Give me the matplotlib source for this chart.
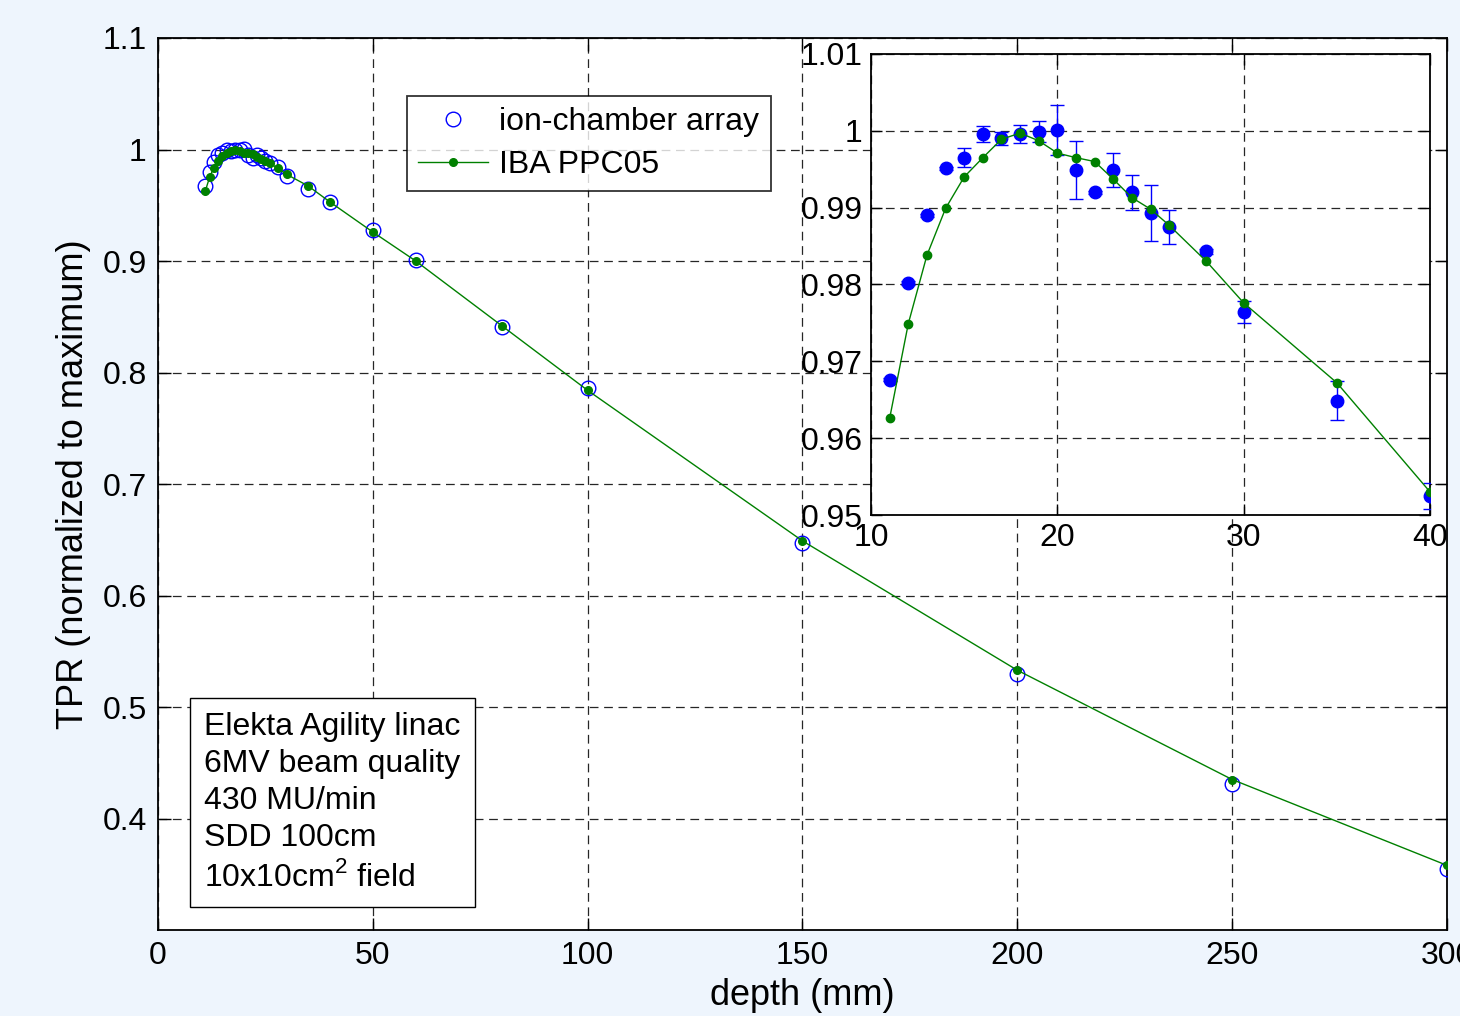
import numpy as np
import matplotlib
matplotlib.use('Agg')
import matplotlib.pyplot as plt
from matplotlib.ticker import FormatStrFormatter

# datos
depth = [11, 12, 13, 14, 15, 16, 17, 18, 19, 20, 21, 22, 23, 24, 25, 26, 28, 30, 35, 40,
         50, 60, 80, 100, 150, 200, 250, 300]
ion = [0.9676, 0.9802, 0.9890, 0.9951, 0.9965, 0.9996, 0.9990, 0.9996, 0.9999, 1.0001,
       0.9949, 0.9920, 0.9949, 0.9920, 0.9893, 0.9875, 0.9843, 0.9764, 0.9649, 0.9525,
       0.928, 0.901, 0.841, 0.7865, 0.6475, 0.530, 0.431, 0.355]
ion_err = [0.0002, 0.0003, 0.0002, 0.0002, 0.0012, 0.0010, 0.0009, 0.0012, 0.0014, 0.0033,
           0.0038, 0.0002, 0.0022, 0.0023, 0.0036, 0.0022, 0.0003, 0.0014, 0.0026, 0.0017,
           0, 0, 0, 0, 0, 0, 0, 0]
ppc = [0.9626, 0.9749, 0.9838, 0.9899, 0.9940, 0.9965, 0.9989, 0.9997, 0.9987, 0.9971,
       0.9965, 0.9960, 0.9937, 0.9913, 0.9898, 0.9877, 0.9830, 0.9776, 0.9672, 0.9530,
       0.926, 0.900, 0.842, 0.784, 0.649, 0.533, 0.435, 0.358]

xticks_main = [0, 50, 100, 150, 200, 250, 300]
yticks_main = [0.4, 0.5, 0.6, 0.7, 0.8, 0.9, 1.0, 1.1]
xticks_ins = [10, 20, 30, 40]
yticks_ins = [0.95, 0.96, 0.97, 0.98, 0.99, 1.0, 1.01]

info = 'Elekta Agility linac\n6MV beam quality\n430 MU/min\nSDD 100cm\n10x10cm$^2$ field'

plt.rcParams['font.family'] = ['Liberation Sans', 'DejaVu Sans']
plt.rcParams['mathtext.fontset'] = 'custom'
plt.rcParams['mathtext.rm'] = 'Liberation Sans'

fondo = '#eef5fd'
azul = '#0000ff'
verde = '#008000'
fs = 23
fs_lab = 26
rejilla = dict(color='0.15', linestyle=(0, (7, 4.5)), lw=0.9)

fig = plt.figure(figsize=(14.6, 10.16), dpi=100, facecolor=fondo)
ax = fig.add_axes([0.1082, 0.0846, 0.8829, 0.878])

ax.plot(depth, ion, 'o', mfc='none', mec=azul, ms=10.5, mew=1.0, label='ion-chamber array', zorder=3)
ax.plot(depth, ppc, '-o', color=verde, lw=1.0, ms=5.5, label='IBA PPC05', zorder=4)

ax.set_xlim(0, 300)
ax.set_ylim(0.3, 1.1)
ax.set_xticks(xticks_main)
ax.set_yticks(yticks_main)
ax.yaxis.set_major_formatter(FormatStrFormatter('%g'))
ax.tick_params(direction='in', top=True, right=True, length=9, width=1, labelsize=fs, pad=8)
ax.grid(True, **rejilla)
for s in ax.spines.values():
    s.set_linewidth(1.3)
ax.set_xlabel('depth (mm)', fontsize=fs_lab, labelpad=5)
ax.set_ylabel('TPR (normalized to maximum)', fontsize=fs_lab, labelpad=8)

leg = ax.legend(loc='upper left', bbox_to_anchor=(0.193, 0.935), borderaxespad=0,
                fontsize=fs, frameon=True, fancybox=False, edgecolor='k',
                handlelength=2.2, borderpad=0.35, labelspacing=0.4, handletextpad=0.35)
leg.get_frame().set_linewidth(1.3)

ax.text(0.036, 0.042, info, transform=ax.transAxes, fontsize=fs, va='bottom', ha='left',
        linespacing=1.3,
        bbox=dict(boxstyle='square,pad=0.45', fc='white', ec='k', lw=1.0))

# inset
axi = fig.add_axes([0.5966, 0.4931, 0.3829, 0.4538])
ins_x = depth[:20]
axi.errorbar(ins_x, ion[:20], yerr=ion_err[:20], fmt='o', color=azul, ms=9, elinewidth=1,
             capsize=5, capthick=1, zorder=3)
axi.plot(ins_x, ppc[:20], '-o', color=verde, lw=1.0, ms=6, zorder=4)
axi.set_xlim(10, 40)
axi.set_ylim(0.95, 1.01)
axi.set_xticks(xticks_ins)
axi.set_yticks(yticks_ins)
axi.yaxis.set_major_formatter(FormatStrFormatter('%g'))
axi.tick_params(direction='in', top=True, right=True, length=8, width=1, labelsize=fs, pad=6)
axi.grid(True, **rejilla)
for s in axi.spines.values():
    s.set_linewidth(1.3)

fig.savefig('out.png', dpi=100, facecolor=fondo)
